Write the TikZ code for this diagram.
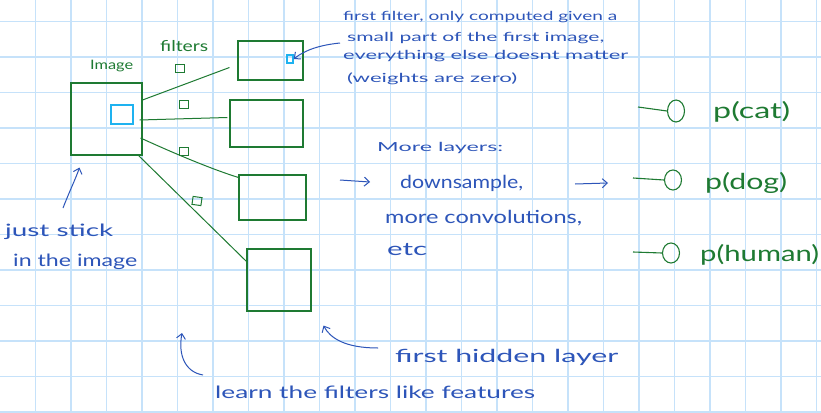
\documentclass[tikz,border=0pt]{standalone}
\usepackage{fontspec}
\setmainfont{Lato}
\usetikzlibrary{arrows.meta,calc,shapes.geometric}
\definecolor{pen}{RGB}{30,122,50}
\definecolor{ink}{RGB}{45,85,185}
\definecolor{cyanink}{RGB}{30,178,240}
\definecolor{gridblue}{RGB}{198,226,250}
\newcommand\fitw[2]{\resizebox{#1}{\height}{#2}}
\begin{document}
\begin{tikzpicture}[x=1pt,y=-1pt,
  box/.style={draw=pen, line width=1.1pt, rectangle, inner sep=0pt},
  filt/.style={draw=pen, line width=1pt, rectangle, minimum width=9pt, minimum height=8pt, inner sep=0pt},
  conn/.style={draw=pen, line width=1pt},
  hl/.style={draw=cyanink, line width=1.4pt, rectangle, inner sep=0pt},
  note/.style={text=ink, inner sep=0pt, anchor=west},
  gtext/.style={text=pen, inner sep=0pt, anchor=west},
  arr/.style={draw=ink, line width=1pt, -{Straight Barb[length=5pt,width=9pt]}},
  outc/.style={draw=pen, line width=1.1pt, ellipse, inner sep=0pt},
  small/.style={font=\fontsize{12.5}{13}\selectfont},
  mid/.style={font=\fontsize{17}{18}\selectfont},
  big/.style={font=\fontsize{22}{24}\selectfont},
]
\useasboundingbox[fill=white] (0,0) rectangle (821,412);
% grid
\foreach \i in {1,...,23} \draw[gridblue, line width=1.4pt] (35.5*\i,0) -- (35.5*\i,412);
\foreach \j in {0,...,11} \draw[gridblue, line width=1.4pt] (0,21.5+35.5*\j) -- (821,21.5+35.5*\j);

% image and hidden layer boxes
\node[box, minimum width=71pt, minimum height=72pt] (img) at (106.5,119) {};
\node[hl, minimum width=22pt, minimum height=19pt] (imgpatch) at (122,114.5) {};
\node[box, minimum width=65pt, minimum height=39pt] (h1) at (270.5,60.5) {};
\node[hl, minimum width=6pt, minimum height=8pt] (h1unit) at (290,59) {};
\node[box, minimum width=73pt, minimum height=47pt] (h2) at (266.5,123.5) {};
\node[box, minimum width=67pt, minimum height=45pt] (h3) at (272.5,197.5) {};
\node[box, minimum width=64pt, minimum height=62pt] (h4) at (279,280) {};

% filters
\node[filt] (f1) at (180,68) {};
\node[filt] (f2) at (183.5,104.5) {};
\node[filt] (f3) at (184,151.5) {};
\node[filt, rotate=-8] (f4) at (197,201) {};

% connectors
\draw[conn] ($(img.east)+(0,-19)$) -- ($(h1.west)+(-8,7)$);
\draw[conn] ($(img.east)+(-3,1)$) -- ($(h2.west)+(-2,-6)$);
\draw[conn] ($(img.east)+(-2,19)$) .. controls ($(h3.north west)+(-40,-10)$) and ($(h3.north west)+(-10,0)$) .. ($(h3.north west)+(0,3)$);
\draw[conn] ($(img.south east)+(-4,0)$) -- ($(h4.north west)+(0,13)$);

% labels (green)
\node[gtext, font=\fontsize{13}{14}\selectfont] (limg) at (90,66) {\fitw{43pt}{Image}};
\node[gtext, font=\fontsize{15}{16}\selectfont] (lfilt) at (160,46) {\fitw{48pt}{filters}};

% note
\node[note, small] (n1) at (343,17) {\fitw{274pt}{first filter, only computed given a}};
\node[note, small] (n2) at (347,38) {\fitw{257pt}{small part of the first image,}};
\node[note, small] (n3) at (343,56) {\fitw{285pt}{everything else doesnt matter}};
\node[note, small] (n4) at (347,79) {\fitw{170pt}{(weights are zero)}};
\coordinate (n2tail) at (340,43);
\draw[arr] (n2tail) .. controls (320,45) and (305,50) .. (h1unit.east);

% just stick
\node[note, mid] (js1) at (5,232) {\fitw{108pt}{just stick}};
\node[note, mid] (js2) at (13,262) {\fitw{124pt}{in the image}};
\draw[arr] (63,208) .. controls (70,190) and (76,178) .. ($(img.south west)+(9,12)$);

% more layers
\node[note, small] (ml) at (377,148) {\fitw{126pt}{More layers:}};
\node[note, font=\fontsize{18}{19}\selectfont] (ds) at (400,183) {\fitw{123pt}{downsample,}};
\node[note, font=\fontsize{18}{19}\selectfont] (mc) at (385,218) {\fitw{197pt}{more convolutions,}};
\node[note, font=\fontsize{18}{19}\selectfont] (etc) at (387,250) {\fitw{40pt}{etc}};
\coordinate (a1s) at (340,180);
\draw[arr] (a1s) -- ($(ds.west)+(-30,-1)$);
\coordinate (a2s) at (575,184);
\coordinate (a2e) at (608,183);
\draw[arr] (a2s) -- (a2e);

% outputs
\node[outc, minimum width=17pt, minimum height=22pt] (ocat) at (676,111) {};
\node[outc, minimum width=17pt, minimum height=20pt] (odog) at (673,180) {};
\node[outc, minimum width=17pt, minimum height=20pt] (ohum) at (671,253) {};
\coordinate (ccat) at (638,107);
\coordinate (cdog) at (633,178);
\coordinate (chum) at (633,252);
\draw[conn, line width=1.1pt] (ccat) -- (ocat.west);
\draw[conn, line width=1.1pt] (cdog) -- (odog.west);
\draw[conn, line width=1.1pt] (chum) -- (ohum.west);
\node[gtext, big] (pcat) at (713,112) {\fitw{77pt}{p(cat)}};
\node[gtext, big] (pdog) at (705,183) {\fitw{82pt}{p(dog)}};
\node[gtext, big] (phum) at (700,255) {\fitw{119pt}{p(human)}};

% bottom annotations
\node[note, font=\fontsize{18}{19}\selectfont] (fhl) at (395,357) {\fitw{223pt}{first hidden layer}};
\draw[arr] ($(fhl.west)+(-17,-9)$) .. controls (345,348) and (330,338) .. ($(h4.south east)+(12,14)$);
\node[note, mid] (learn) at (215,392) {\fitw{320pt}{learn the filters like features}};
\draw[arr] ($(learn.west)+(-12,-17)$) .. controls (185,372) and (178,355) .. (182,333);
\end{tikzpicture}
\end{document}
